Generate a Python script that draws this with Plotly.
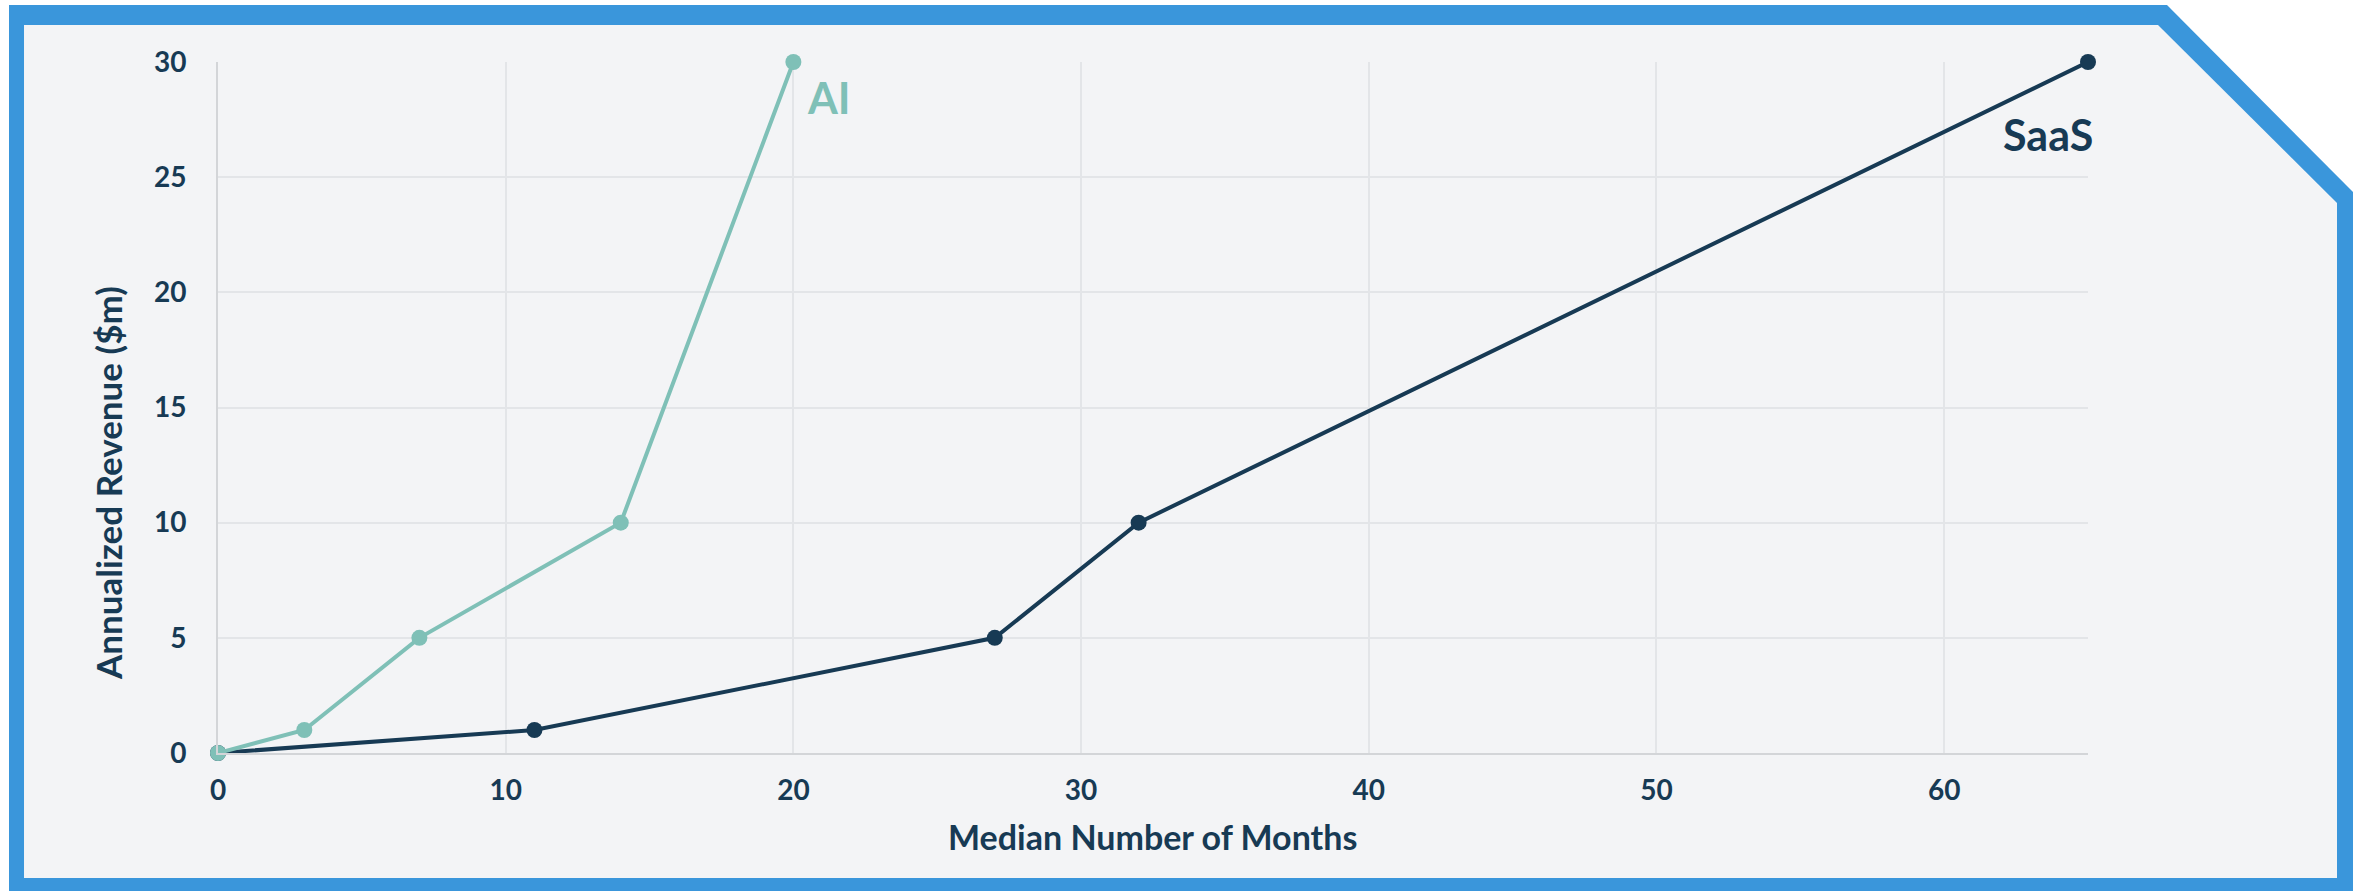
import plotly.graph_objects as go

W, H = 2363, 891

# ---- data ----
ai_months = [0, 3, 7, 14, 20]
ai_revenue = [0, 1, 5, 10, 30]
saas_months = [0, 11, 27, 32, 65]
saas_revenue = [0, 1, 5, 10, 30]
x_ticks = [0, 10, 20, 30, 40, 50, 60]
y_ticks = [0, 5, 10, 15, 20, 25, 30]

NAVY = "#173a54"
TEAL = "#7fc0b7"
BLUE = "#3a96db"
BG = "#f3f4f6"
GRID = "#e3e5e8"
AXIS = "#d3d5d8"
FONT = "Lato"


def px(x):
    return x / W


def py(y):
    return 1 - y / H


def path(pts):
    return "M " + " L ".join(f"{px(a):.5f},{py(b):.5f}" for a, b in pts) + " Z"


outer = [(9, 5), (2167, 5), (2353, 192), (2353, 900), (9, 900)]
inner = [(24, 25), (2158, 25), (2337, 203), (2337, 878), (24, 878)]

fig = go.Figure()
fig.add_trace(go.Scatter(
    x=saas_months, y=saas_revenue, mode="lines+markers", name="SaaS",
    line=dict(color=NAVY, width=4), marker=dict(color=NAVY, size=16),
    cliponaxis=False, showlegend=False))
fig.add_trace(go.Scatter(
    x=ai_months, y=ai_revenue, mode="lines+markers", name="AI",
    line=dict(color=TEAL, width=4), marker=dict(color=TEAL, size=16),
    cliponaxis=False, showlegend=False))

fig.update_layout(
    template="none",
    width=W, height=H, autosize=False,
    margin=dict(l=0, r=0, t=0, b=0, pad=0, autoexpand=False),
    paper_bgcolor="white",
    plot_bgcolor="rgba(0,0,0,0)",
    font=dict(family=FONT, color=NAVY),
    shapes=[
        dict(type="path", xref="paper", yref="paper", path=path(outer),
             fillcolor=BLUE, line=dict(width=0), layer="below"),
        dict(type="path", xref="paper", yref="paper", path=path(inner),
             fillcolor=BG, line=dict(width=0), layer="below"),
    ],
    xaxis=dict(
        domain=[px(218), px(2088)], range=[0, 65], automargin=False,
        tickvals=x_ticks, ticktext=[str(v) for v in x_ticks],
        showgrid=True, gridcolor=GRID, gridwidth=1.5,
        showline=True, linecolor=AXIS, linewidth=2,
        zeroline=False, ticks="", ticklabelstandoff=11,
        tickfont=dict(family=FONT, size=28, color=NAVY, weight="bold"),
    ),
    yaxis=dict(
        domain=[py(753), py(62)], range=[0, 30], automargin=False,
        tickvals=y_ticks, ticktext=[str(v) for v in y_ticks],
        showgrid=True, gridcolor=GRID, gridwidth=1.5,
        showline=True, linecolor=AXIS, linewidth=2,
        zeroline=False, ticks="", ticklabelstandoff=24,
        tickfont=dict(family=FONT, size=28, color=NAVY, weight="bold"),
    ),
    annotations=[
        dict(text="<b>Median Number of Months</b>", xref="paper", yref="paper",
             x=px(1152), y=py(836), xanchor="center", yanchor="middle",
             showarrow=False, font=dict(family=FONT, size=34, color=NAVY)),
        dict(text="<b>Annualized Revenue ($m)</b>", xref="paper", yref="paper",
             x=px(108), y=py(483), xanchor="center", yanchor="middle",
             textangle=-90, showarrow=False,
             font=dict(family=FONT, size=35, color=NAVY)),
        dict(text="<b>AI</b>", xref="x", yref="y", x=ai_months[-1], y=ai_revenue[-1],
             xanchor="left", yanchor="middle", xshift=12, yshift=-35,
             showarrow=False, font=dict(family=FONT, size=43, color=TEAL)),
        dict(text="<b>SaaS</b>", xref="x", yref="y", x=saas_months[-1], y=saas_revenue[-1],
             xanchor="right", yanchor="middle", xshift=7, yshift=-72,
             showarrow=False, font=dict(family=FONT, size=43, color=NAVY)),
    ],
)

fig.write_html("out.html")
